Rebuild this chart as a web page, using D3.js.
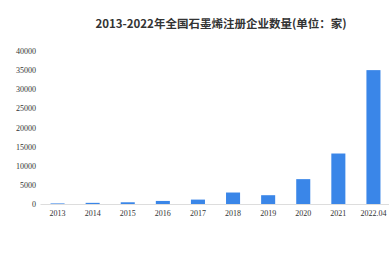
<!DOCTYPE html>
<html>
<head>
<meta charset="utf-8">
<script src="https://cdn.jsdelivr.net/npm/d3@7"></script>
<style>
  body { margin: 0; background: #fff; }
</style>
</head>
<body>
<div id="chart"></div>
<script>
// categories and values
const years = ["2013", "2014", "2015", "2016", "2017", "2018", "2019", "2020", "2021", "2022.04"];
const counts = [150, 300, 450, 800, 1150, 3000, 2300, 6500, 13200, 35000];
const yTicks = [0, 5000, 10000, 15000, 20000, 25000, 30000, 35000, 40000];

const svgWidth = 389, svgHeight = 260;
const margin = { top: 51, right: -2, bottom: 56, left: 40 };
const width = svgWidth - margin.left - margin.right;
const height = svgHeight - margin.top - margin.bottom;

const svg = d3.select("#chart")
    .append("svg")
    .attr("width", svgWidth)
    .attr("height", svgHeight);

// title
svg.append("text")
    .attr("x", 221)
    .attr("y", 28)
    .attr("text-anchor", "middle")
    .attr("font-family", "'Noto Sans CJK SC', sans-serif")
    .attr("font-size", 11.5)
    .attr("font-weight", "bold")
    .attr("fill", "#333")
    .text("2013-2022年全国石墨烯注册企业数量(单位：家)");

const chartGroup = svg.append("g")
    .attr("transform", `translate(${margin.left}, ${margin.top})`);

const x = d3.scaleBand()
    .domain(years)
    .range([0, width])
    .paddingInner(0.6)
    .paddingOuter(0.3);

const y = d3.scaleLinear()
    .domain([0, 40000])
    .range([height, 0]);

// y axis, labels only
const leftAxis = d3.axisLeft(y).tickValues(yTicks).tickFormat(d3.format("d")).tickSize(0).tickPadding(4);
const yAxis = chartGroup.append("g").call(leftAxis);
yAxis.select(".domain").remove();
yAxis.selectAll("text")
    .attr("font-family", "'Liberation Serif', serif")
    .attr("font-size", 8)
    .attr("fill", "#333");

// x axis
const bottomAxis = d3.axisBottom(x).tickSize(0).tickPadding(6);
const xAxis = chartGroup.append("g")
    .attr("transform", `translate(0, ${height})`)
    .call(bottomAxis);
xAxis.select(".domain").attr("stroke", "#ddd");
xAxis.selectAll("text")
    .attr("font-family", "'Liberation Serif', serif")
    .attr("font-size", 8)
    .attr("fill", "#333");

// bars
chartGroup.selectAll(".bar")
    .data(counts)
    .enter()
    .append("rect")
    .attr("class", "bar")
    .attr("x", (d, i) => x(years[i]))
    .attr("y", d => y(d))
    .attr("width", x.bandwidth())
    .attr("height", d => height - y(d))
    .attr("fill", "#3a86e8");
</script>
</body>
</html>
